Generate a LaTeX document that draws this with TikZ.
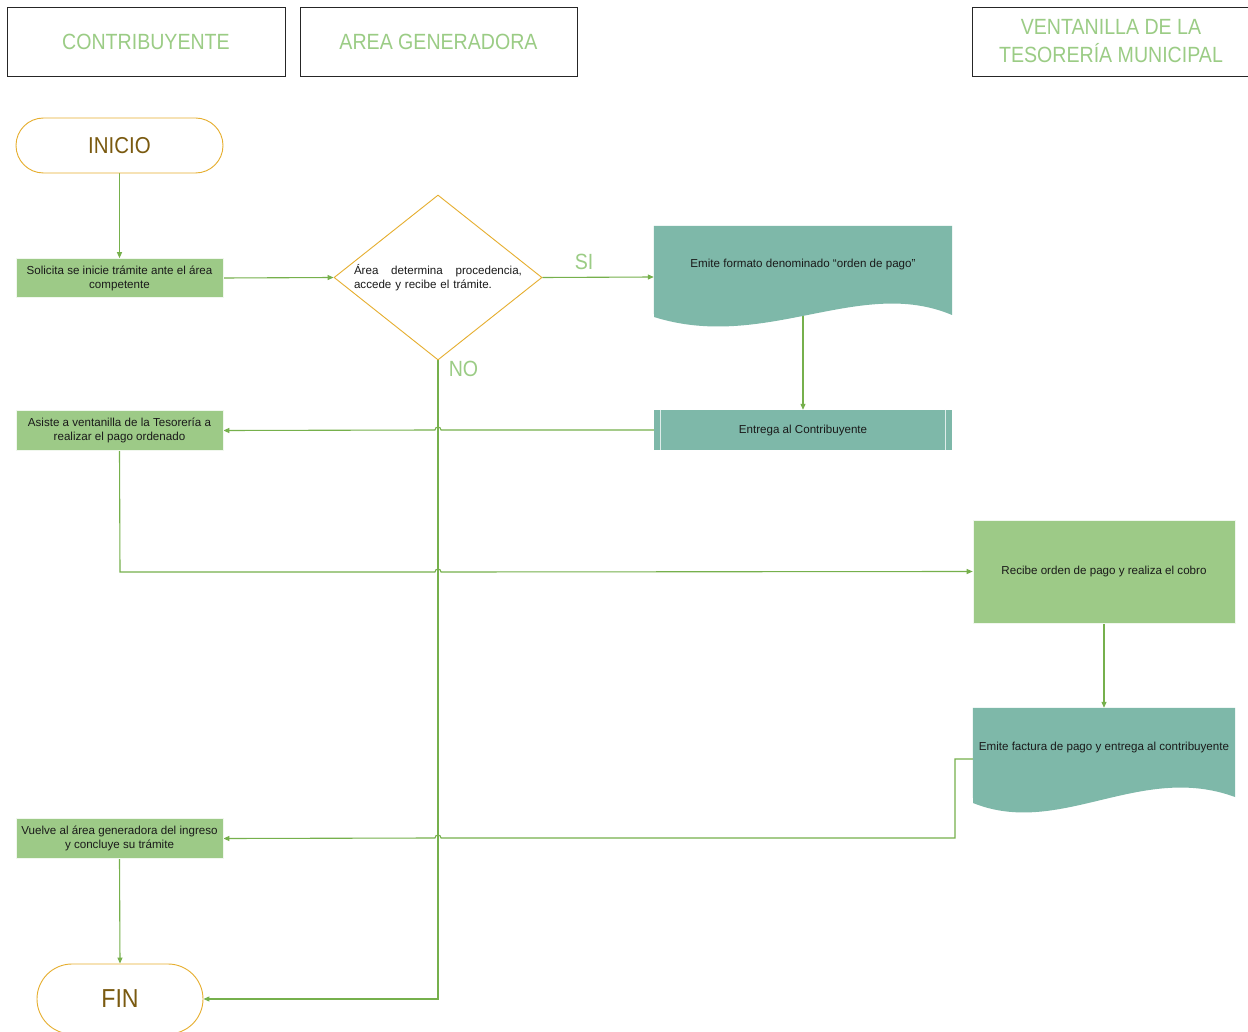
\documentclass[tikz,border=0pt]{standalone}
\usepackage{fontspec}
\setmainfont{Liberation Sans}
\newfontfamily\narrowf[FakeStretch=0.89]{Liberation Sans}
\usetikzlibrary{shapes.geometric,arrows.meta,calc}
\pgfdeclarelayer{background}
\pgfsetlayers{background,main}
\definecolor{boxgreen}{HTML}{9DCA87}
\definecolor{tealc}{HTML}{7EB8A9}
\definecolor{goldc}{HTML}{E6AE2E}
\definecolor{brownc}{HTML}{7A5A10}
\definecolor{hdrgreen}{HTML}{9BCC85}
\definecolor{linec}{HTML}{76B04C}
\definecolor{txtc}{HTML}{1A1A1A}
\tikzset{
  hdrbox/.style={draw=black!85, line width=0.8pt, fill=white, minimum width=278pt, minimum height=69pt, inner sep=0pt,
    font=\narrowf\fontsize{22}{28}\selectfont, text=hdrgreen, align=center},
  termbox/.style={draw=goldc, line width=0.9pt, fill=white, inner sep=0pt, text=brownc},
  gbox/.style={draw=white!85!boxgreen, line width=0.6pt, fill=boxgreen, inner sep=0pt, text=txtc,
    font=\fontsize{11.6}{14}\selectfont, align=center},
  tbox/.style={fill=tealc, inner sep=0pt, text=txtc, font=\fontsize{11.6}{14}\selectfont, align=center},
  ghost/.style={inner sep=0pt, draw=none},
  lbl/.style={font=\narrowf\fontsize{22}{26}\selectfont, text=hdrgreen, inner sep=0pt},
  conn/.style={draw=linec, line width=1.1pt, -{Triangle[length=6pt,width=5pt]}}
}
\begin{document}
\begin{tikzpicture}[x=1pt,y=-1pt]
\useasboundingbox (0,0) rectangle (1248,1032);

% headers
\node[hdrbox] (h1) at (146,41.5) {CONTRIBUYENTE};
\node[hdrbox, minimum width=277pt] (h2) at (438.5,41.5) {AREA GENERADORA};
\node[hdrbox] (h3) at (1111,41.5) {VENTANILLA DE LA\\TESORERÍA MUNICIPAL};

% start / end
\node[termbox, minimum width=207pt, minimum height=55pt, rounded corners=27.5pt,
  font=\narrowf\fontsize{23}{26}\selectfont] (ini) at (119.5,145.5) {INICIO};
\node[termbox, minimum width=166pt, minimum height=70pt, rounded corners=35pt,
  font=\narrowf\fontsize{26}{30}\selectfont] (fin) at (120,999) {FIN};

% contribuyente boxes
\node[gbox, minimum width=207pt, minimum height=39pt] (sol) at (119.5,278)
  {Solicita se inicie trámite ante el área\\competente};
\node[gbox, minimum width=207pt, minimum height=40pt] (asi) at (119.5,430.5)
  {Asiste a ventanilla de la Tesorería a\\realizar el pago ordenado};
\node[gbox, minimum width=207pt, minimum height=40pt] (vue) at (119.5,838.5)
  {Vuelve al área generadora del ingreso\\y concluye su trámite};

% decision
\node[diamond, draw=goldc, line width=0.9pt, fill=white, minimum width=208pt, minimum height=165pt, inner sep=0pt] (dec) at (438,277.5) {};
\node[text width=168pt, align=left, inner sep=0pt, text=txtc, font=\fontsize{11.6}{14}\selectfont] (dect) at (438,278)
  {\hbox to 168pt{Área\hfill determina\hfill procedencia,}\\accede y recibe el trámite.};

% document: orden de pago
\node[ghost, minimum width=298pt, minimum height=102pt] (emi) at (803,277) {};
\fill[tealc] (emi.north west) -- (emi.north east) -- (952,315)
  .. controls (860,276) and (765,352) .. (654,317) -- cycle;
\node[text=txtc, font=\fontsize{11.6}{14}\selectfont, inner sep=0pt] (emit) at (803,265) {Emite formato denominado “orden de pago”};

% entrega
\node[tbox, minimum width=298pt, minimum height=40pt, text height=8.5pt, text depth=2.5pt] (ent) at (803,430) {Entrega al Contribuyente};
\draw[white!75!tealc, line width=1pt] ($(ent.north west)+(7,0)$) -- ($(ent.south west)+(7,0)$);
\draw[white!75!tealc, line width=1pt] ($(ent.north east)+(-7,0)$) -- ($(ent.south east)+(-7,0)$);

% tesoreria
\node[gbox, minimum width=262pt, minimum height=103pt, text height=8.5pt, text depth=2.5pt] (rec) at (1104,571.5) {Recibe orden de pago y realiza el cobro};
\node[ghost, minimum width=262pt, minimum height=102pt] (fac) at (1104,759) {};
\fill[tealc] (fac.north west) -- (fac.north east) -- (1235,797)
  .. controls (1140,762) and (1060,838) .. (973,803) -- cycle;
\node[text=txtc, font=\fontsize{11.6}{14}\selectfont, inner sep=0pt] (fact) at (1104,747) {Emite factura de pago y entrega al contribuyente};

% labels
\node[lbl, anchor=base] (si) at (584,270) {SI};
\node[lbl, anchor=base] (no) at (463.5,377) {NO};

% connectors
\begin{pgfonlayer}{background}
\fill[white] (0,0) rectangle (1248,1032);
\draw[conn] (ini.south) -- (sol.north);
\draw[conn] (sol.east) -- (dec.west);
\draw[conn] (dec.east) -- (emi.west);
\draw[conn] (emi.center) -- (ent.north);
\draw[conn] (ent.west) -- (441,430) arc[start angle=0, end angle=-180, radius=3] -- (asi.east);
\draw[conn] (asi.south) -- (120,572) -- (435,572) arc[start angle=180, end angle=360, radius=3] -- (rec.west);
\draw[conn] (rec.south) -- (fac.north);
\draw[conn] (fac.west) -- (955,759) -- (955,838) -- (441,838) arc[start angle=0, end angle=-180, radius=3] -- (vue.east);
\draw[conn] (vue.south) -- (fin.north);
\draw[conn] (dec.south) -- (438,999) -- (fin.east);
\end{pgfonlayer}
\end{tikzpicture}
\end{document}
